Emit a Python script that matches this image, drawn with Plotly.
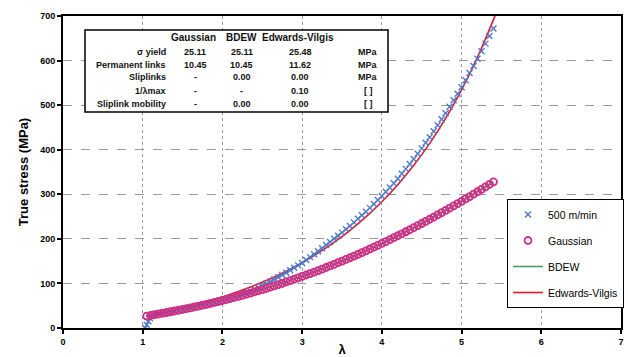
import plotly.graph_objects as go

# ---------------- data ----------------
lam_model = [1.05, 1.10, 1.15, 1.20, 1.25, 1.30, 1.35, 1.40, 1.45, 1.50,
             1.55, 1.60, 1.65, 1.70, 1.75, 1.80, 1.85, 1.90, 1.95, 2.00,
             2.05, 2.10, 2.15, 2.20, 2.25, 2.30, 2.35, 2.40, 2.45, 2.50,
             2.55, 2.60, 2.65, 2.70, 2.75, 2.80, 2.85, 2.90, 2.95, 3.00,
             3.05, 3.10, 3.15, 3.20, 3.25, 3.30, 3.35, 3.40, 3.45, 3.50,
             3.55, 3.60, 3.65, 3.70, 3.75, 3.80, 3.85, 3.90, 3.95, 4.00,
             4.05, 4.10, 4.15, 4.20, 4.25, 4.30, 4.35, 4.40, 4.45, 4.50,
             4.55, 4.60, 4.65, 4.70, 4.75, 4.80, 4.85, 4.90, 4.95, 5.00,
             5.05, 5.10, 5.15, 5.20, 5.25, 5.30, 5.35, 5.40]

gaussian = [26.68, 28.25, 29.84, 31.45, 33.08, 34.73, 36.41, 38.13, 39.87, 41.66,
            43.47, 45.33, 47.23, 49.16, 51.14, 53.16, 55.23, 57.33, 59.49, 61.69,
            63.93, 66.22, 68.55, 70.94, 73.37, 75.85, 78.37, 80.95, 83.57, 86.24,
            88.96, 91.73, 94.55, 97.42, 100.34, 103.31, 106.32, 109.39, 112.51, 115.68,
            118.90, 122.16, 125.48, 128.85, 132.27, 135.74, 139.27, 142.84, 146.46, 150.14,
            153.86, 157.64, 161.47, 165.35, 169.28, 173.26, 177.29, 181.38, 185.51, 189.70,
            193.94, 198.23, 202.57, 206.96, 211.40, 215.90, 220.45, 225.05, 229.70, 234.40,
            239.15, 243.96, 248.82, 253.73, 258.69, 263.70, 268.77, 273.88, 279.05, 284.27,
            289.54, 294.87, 300.24, 305.67, 311.15, 316.68, 322.26, 327.90]

bdew = gaussian  # BDEW fit coincides with the Gaussian fit (slip-links = 0)

lam_exp = [1.03, 1.05, 1.07, 1.09, 1.11, 1.13,
           1.15, 1.20, 1.25, 1.30, 1.35, 1.40, 1.45, 1.50,
           1.55, 1.60, 1.65, 1.70, 1.75, 1.80, 1.85, 1.90, 1.95, 2.00,
           2.05, 2.10, 2.15, 2.20, 2.25, 2.30, 2.35, 2.40, 2.45, 2.50,
           2.55, 2.60, 2.65, 2.70, 2.75, 2.80, 2.85, 2.90, 2.95, 3.00,
           3.05, 3.10, 3.15, 3.20, 3.25, 3.30, 3.35, 3.40, 3.45, 3.50,
           3.55, 3.60, 3.65, 3.70, 3.75, 3.80, 3.85, 3.90, 3.95, 4.00,
           4.05, 4.10, 4.15, 4.20, 4.25, 4.30, 4.35, 4.40, 4.45, 4.50,
           4.55, 4.60, 4.65, 4.70, 4.75, 4.80, 4.85, 4.90, 4.95, 5.00,
           5.05, 5.10, 5.15, 5.20, 5.25, 5.30, 5.35, 5.40]

stress_500 = [0, 7, 15, 22, 27, 30,
              31, 32, 33.5, 35, 36.5, 38, 39.5, 41,
              43, 44.5, 46.5, 48.5, 50.5, 52.5, 54.5, 56.5, 59, 61.5,
              64, 66.5, 69.5, 72, 75.5, 79, 83, 87, 91, 95,
              99.5, 104, 109, 114, 119, 124, 129.5, 135, 140.5, 146,
              152.5, 159, 165.5, 172, 179, 186, 193, 200, 207, 214,
              221.5, 229, 237, 245, 253, 261, 269.5, 278, 287, 296,
              305.5, 315, 325, 335, 346, 357, 368, 379, 391, 403,
              415.5, 428, 441.5, 455, 468.5, 482, 496.5, 511, 525.5, 540,
              556, 572, 588, 604, 621, 638, 655, 672]

lam_ev = [1.04, 1.2, 1.4, 1.6, 1.8, 2.0, 2.2, 2.4, 2.6, 2.8, 3.0, 3.2,
          3.4, 3.6, 3.8, 4.0, 4.2, 4.4, 4.6, 4.8, 5.0, 5.2, 5.4, 5.42]
edwards_vilgis = [26.9, 32.8, 40.7, 49.3, 58.9, 69.7, 81.7, 95.3, 110.4, 127.5,
                  146.5, 167.9, 191.9, 218.8, 249.1, 283.2, 321.6, 365.0, 414.3,
                  470.3, 534.3, 607.5, 691.8, 701.0]

table_headers = ["Gaussian", "BDEW", "Edwards-Vilgis"]
table_rows = ["σ yield", "Permanent links", "Sliplinks", "1/λmax", "Sliplink mobility"]
table_gaussian = ["25.11", "10.45", "-", "-", "-"]
table_bdew = ["25.11", "10.45", "0.00", "-", "0.00"]
table_ev = ["25.48", "11.62", "0.00", "0.10", "0.00"]
table_units = ["MPa", "MPa", "MPa", "[ ]", "[ ]"]

x_ticks = [0, 1, 2, 3, 4, 5, 6, 7]
y_ticks = [0, 100, 200, 300, 400, 500, 600, 700]

# ---------------- figure ----------------
W, H = 628, 357
ML, MR, MT, MB = 63, 7, 16, 29
PW, PH = W - ML - MR, H - MT - MB


def px(xp):
    return (xp - ML) / PW


def py(yp):
    return (H - MB - yp) / PH


FONT = "Liberation Sans, Arial, sans-serif"
BLUE = "#4a78c8"
PINK = "#cc2f86"
GREEN = "#3f9a5c"
RED = "#e8132e"

fig = go.Figure()

fig.add_trace(go.Scatter(x=lam_model, y=bdew, mode="lines", name="BDEW",
                         line=dict(color=GREEN, width=1.5), legendrank=3))
fig.add_trace(go.Scatter(x=lam_ev, y=edwards_vilgis, mode="lines", name="Edwards-Vilgis",
                         line=dict(color=RED, width=1.6, shape="spline", smoothing=0.6),
                         legendrank=4))
fig.add_trace(go.Scatter(x=lam_exp, y=stress_500, mode="markers", name="500 m/min",
                         marker=dict(symbol="x-thin", size=6, color=BLUE,
                                     line=dict(width=1.4, color=BLUE)),
                         legendrank=1))
fig.add_trace(go.Scatter(x=lam_model, y=gaussian, mode="markers", name="Gaussian",
                         marker=dict(symbol="circle-open", size=7, color=PINK,
                                     line=dict(width=1.8, color=PINK)),
                         legendrank=2))

for i, tr in enumerate(fig.data):
    tr.legendgroup = f"g{i}"

axis_common = dict(
    showline=True, linecolor="black", linewidth=2, mirror=True,
    ticks="outside", ticklen=4, tickwidth=1.5, tickcolor="black",
    tickfont=dict(family=FONT, size=9, color="black", weight="bold"),
    showgrid=True, gridcolor="#9a9a9a", gridwidth=1,
    zeroline=False,
)

fig.update_layout(
    width=W, height=H,
    margin=dict(l=ML, r=MR, t=MT, b=MB, autoexpand=False),
    paper_bgcolor="white", plot_bgcolor="white",
    font=dict(family=FONT, color="black"),
    xaxis=dict(range=[0, 7], tickvals=x_ticks, griddash="dot",
               title=dict(text="λ", font=dict(family=FONT, size=13, weight="bold"),
                          standoff=3),
               **axis_common),
    yaxis=dict(range=[0, 700], tickvals=y_ticks, griddash="dash",
               title=dict(text="True stress (MPa)",
                          font=dict(family=FONT, size=13, weight="bold"), standoff=9),
               **axis_common),
    legend=dict(x=px(507), y=py(199), xanchor="left", yanchor="top",
                bgcolor="white", bordercolor="black", borderwidth=1,
                font=dict(family=FONT, size=10.5, color="black"),
                tracegroupgap=7, itemwidth=30, traceorder="grouped"),
    showlegend=True,
)

# table box
fig.add_shape(type="rect", xref="paper", yref="paper",
              x0=px(85), x1=px(388), y0=py(112), y1=py(30),
              line=dict(color="black", width=1.5), fillcolor="white", layer="above")

col_x = [195, 242, 300]
for hx, htxt in zip([193, 242, 298], table_headers):
    fig.add_annotation(x=px(hx), y=py(38), xref="paper", yref="paper", text=f"<b>{htxt}</b>",
                       showarrow=False, xanchor="center", yanchor="middle",
                       font=dict(family=FONT, size=10, color="#111"))

row_y = [52, 64.5, 77.5, 90.5, 104]
for ry, lab, g, b, e, u in zip(row_y, table_rows, table_gaussian, table_bdew, table_ev, table_units):
    fig.add_annotation(x=px(168), y=py(ry), xref="paper", yref="paper", text=f"<b>{lab}</b>",
                       showarrow=False, xanchor="right", yanchor="middle",
                       font=dict(family=FONT, size=9, color="#111"))
    for cx, val in zip(col_x, [g, b, e]):
        fig.add_annotation(x=px(cx), y=py(ry), xref="paper", yref="paper", text=f"<b>{val}</b>",
                           showarrow=False, xanchor="center", yanchor="middle",
                           font=dict(family=FONT, size=9, color="#111"))
    fig.add_annotation(x=px(368), y=py(ry), xref="paper", yref="paper", text=f"<b>{u}</b>",
                       showarrow=False, xanchor="center", yanchor="middle",
                       font=dict(family=FONT, size=9, color="#111"))

fig.write_html("out.html")
